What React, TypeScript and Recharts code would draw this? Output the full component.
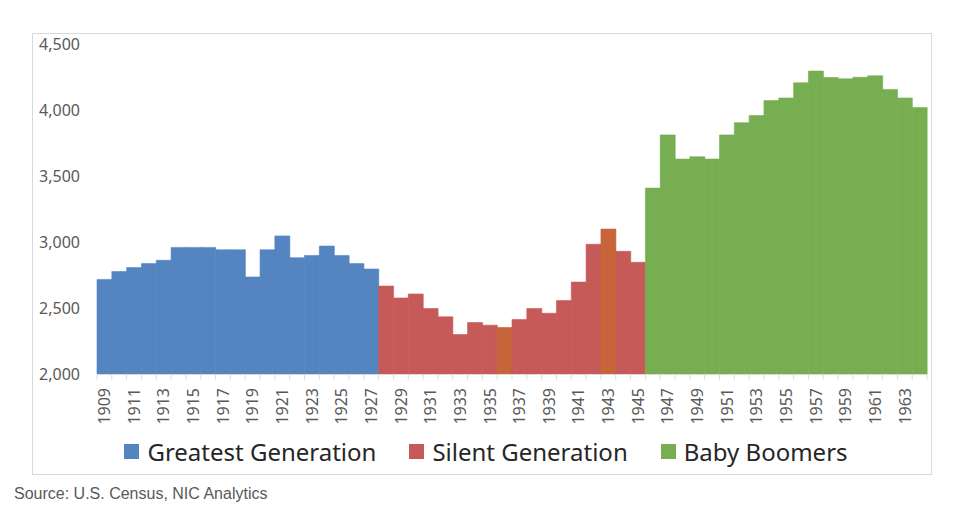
import React from 'react';
import { BarChart, Bar, XAxis, YAxis, Cell, Legend } from 'recharts';

const years = [
  '1909', '1910', '1911', '1912', '1913', '1914', '1915', '1916', '1917', '1918',
  '1919', '1920', '1921', '1922', '1923', '1924', '1925', '1926', '1927',
  '1928', '1929', '1930', '1931', '1932', '1933', '1934', '1935', '1936', '1937',
  '1938', '1939', '1940', '1941', '1942', '1943', '1944', '1945',
  '1946', '1947', '1948', '1949', '1950', '1951', '1952', '1953', '1954', '1955',
  '1956', '1957', '1958', '1959', '1960', '1961', '1962', '1963', '1964',
];

const greatestGeneration = [
  2720, 2780, 2810, 2840, 2865, 2963, 2963, 2963, 2945, 2945,
  2739, 2945, 3050, 2885, 2902, 2973, 2902, 2840, 2799,
];
const silentGeneration = [
  2670, 2580, 2610, 2500, 2437, 2303, 2394, 2374, 2356, 2417,
  2500, 2464, 2560, 2700, 2987, 3102, 2933, 2850,
];
const babyBoomers = [
  3412, 3815, 3632, 3650, 3632, 3815, 3908, 3962, 4075, 4095,
  4210, 4299, 4250, 4240, 4252, 4263, 4160, 4095, 4022,
];
const highlightYears = ['1936', '1943'];

const yTicks = [2000, 2500, 3000, 3500, 4000, 4500];

const COLORS = {
  greatest: '#5585C0',
  silent: '#C55A58',
  boomers: '#77AE51',
  highlight: '#C8643A',
};

const legendItems = [
  { label: 'Greatest Generation', color: COLORS.greatest },
  { label: 'Silent Generation', color: COLORS.silent },
  { label: 'Baby Boomers', color: COLORS.boomers },
];

const values = [...greatestGeneration, ...silentGeneration, ...babyBoomers];
const gens = [
  ...greatestGeneration.map(() => 'greatest'),
  ...silentGeneration.map(() => 'silent'),
  ...babyBoomers.map(() => 'boomers'),
];
const rows = years.map((year, i) => ({
  year,
  value: values[i],
  gen: highlightYears.includes(year) ? 'highlight' : gens[i],
}));

const CHART_W = 898;
const CHART_H = 440;
const MARGIN = { top: 10.5, right: 4, left: 0, bottom: 4.5 };
const Y_W = 64;
const BAND = (CHART_W - Y_W - MARGIN.left - MARGIN.right) / years.length;
const FONT = '"Noto Sans", "Open Sans", sans-serif';

const YearTick = (props: any) => {
  const { x, y, payload, index } = props;
  const half = BAND / 2;
  const ty = y + 13.5;
  return (
    <g>
      <line x1={x - half} x2={x - half} y1={y} y2={y + 5} stroke="#d9d9d9" />
      {index === years.length - 1 && (
        <line x1={x + half} x2={x + half} y1={y} y2={y + 5} stroke="#d9d9d9" />
      )}
      {index % 2 === 0 && (
        <text
          x={x}
          y={ty}
          transform={`rotate(-90 ${x} ${ty})`}
          textAnchor="end"
          dy="0.36em"
          fill="#595959"
          fontSize={16}
          fontFamily={FONT}
        >
          {payload.value}
        </text>
      )}
    </g>
  );
};

const LegendContent = () => (
  <div
    style={{
      display: 'flex',
      justifyContent: 'center',
      alignItems: 'center',
      height: 36,
      paddingLeft: 12,
      fontFamily: FONT,
      fontSize: 24,
      color: '#262626',
    }}
  >
    {legendItems.map((it, i) => (
      <div
        key={it.label}
        style={{ display: 'flex', alignItems: 'center', marginLeft: i === 0 ? 0 : 33 }}
      >
        <span style={{ width: 15, height: 15, background: it.color, display: 'inline-block', marginRight: 8 }} />
        <span>{it.label}</span>
      </div>
    ))}
  </div>
);

export default function App() {
  return (
    <div
      style={{
        position: 'absolute',
        left: 0,
        top: 0,
        width: 975,
        height: 509,
        background: '#fff',
        overflow: 'hidden',
      }}
    >
      <div
        style={{
          position: 'absolute',
          left: 32,
          top: 33,
          width: 900,
          height: 442,
          border: '1px solid #d9d9d9',
          boxSizing: 'border-box',
          background: '#fff',
        }}
      >
        <BarChart
          width={CHART_W}
          height={CHART_H}
          data={rows}
          margin={MARGIN}
          barCategoryGap={0}
          barGap={0}
        >
          <XAxis
            dataKey="year"
            interval={0}
            tickLine={false}
            tickSize={0}
            tickMargin={0}
            axisLine={{ stroke: '#d9d9d9' }}
            height={59}
            tick={<YearTick />}
          />
          <YAxis
            width={Y_W}
            domain={[2000, 4500]}
            ticks={yTicks}
            allowDataOverflow
            axisLine={false}
            tickLine={false}
            tickSize={6}
            tickMargin={11}
            tickFormatter={(v: number) => v.toLocaleString('en-US')}
            tick={{ fill: '#595959', fontSize: 16, fontFamily: FONT }}
          />
          <Legend verticalAlign="bottom" height={36} content={<LegendContent />} />
          <Bar dataKey="value" isAnimationActive={false}>
            {rows.map((r) => (
              <Cell
                key={r.year}
                fill={(COLORS as any)[r.gen]}
                stroke={(COLORS as any)[r.gen]}
                strokeWidth={0.6}
              />
            ))}
          </Bar>
        </BarChart>
      </div>
      <div
        style={{
          position: 'absolute',
          left: 14,
          top: 485,
          fontFamily: '"Liberation Sans", Arial, sans-serif',
          fontSize: 16,
          color: '#595959',
          whiteSpace: 'nowrap',
        }}
      >
        Source: U.S. Census, NIC Analytics
      </div>
    </div>
  );
}
